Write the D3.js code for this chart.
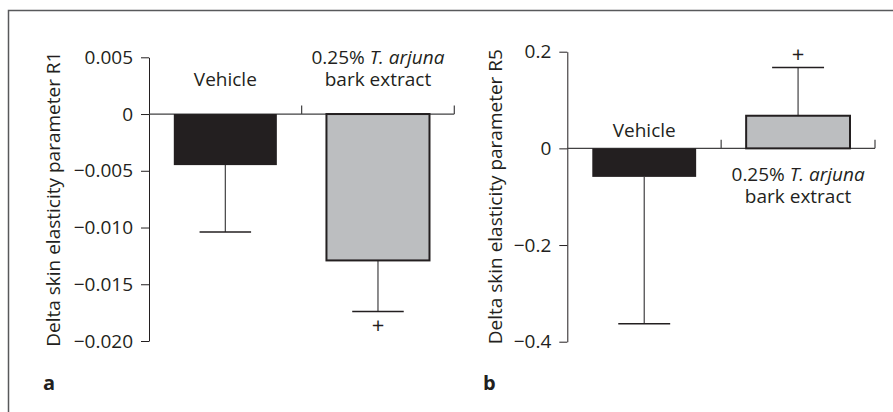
<!DOCTYPE html>
<html>
<head>
<meta charset="utf-8">
<script src="https://cdn.jsdelivr.net/npm/d3@7"></script>
<style>
  body { margin: 0; background: #fff; }
  text { font-family: "Open Sans", sans-serif; fill: #231f20; }
</style>
</head>
<body>
<script>
// groups and values
var groups = ["Vehicle", "0.25% T. arjuna bark extract"];

// panel a, R1: mean change and the end of the error bar
var r1Means = [-0.0045, -0.0129];
var r1ErrorEnds = [-0.0104, -0.0174];
var r1Ticks = [0.005, 0, -0.005, -0.010, -0.015, -0.020];

// panel b, R5
var r5Means = [-0.059, 0.0675];
var r5ErrorEnds = [-0.363, 0.1675];
var r5Ticks = [0.2, 0, -0.2, -0.4];

// "+" marks next to the error bar of the extract group
var plusMarks = [false, true];

var colors = ["#231f20", "#bcbec0"];

var fontSize = "19px";

var svg = d3.select("body")
            .append("svg")
            .attr("width", 893)
            .attr("height", 412);

// frame, only top and left edges are visible
svg.append("path")
   .attr("d", "M8.5,412 V10.5 H893")
   .attr("fill", "none")
   .attr("stroke", "#58595b")
   .attr("stroke-width", 1.5);

function drawPanel(opts) {
  var g = svg.append("g");

  var yScale = d3.scaleLinear()
                 .domain(d3.extent(opts.ticks))
                 .range([opts.bottom, opts.top]);

  var xScale = d3.scaleBand()
                 .domain(groups)
                 .range([opts.left, opts.right]);

  var barW = xScale.bandwidth() * 0.675;
  var y0 = yScale(0);

  // left axis
  var yAxis = d3.axisLeft(yScale)
                .tickValues(opts.ticks)
                .tickSize(8)
                .tickSizeOuter(0)
                .tickPadding(opts.tickPad)
                .tickFormat(function(d) { return d === 0 ? "0" : d3.format(opts.fmt)(d); });

  var axisG = g.append("g")
               .attr("transform", "translate(" + opts.left + ",0)")
               .call(yAxis);
  axisG.attr("font-size", null).attr("font-family", null);
  axisG.select(".domain").attr("stroke", "#231f20");
  axisG.selectAll(".tick line").attr("stroke", "#231f20");
  axisG.selectAll(".tick text")
       .style("font-size", fontSize)
       .attr("fill", "#231f20");

  // axis title
  g.append("text")
   .attr("transform", "rotate(-90)")
   .attr("x", -(opts.top + opts.bottom) / 2)
   .attr("y", opts.titleX)
   .attr("text-anchor", "middle")
   .style("font-size", fontSize)
   .text(opts.title);

  // error bars
  g.selectAll(".err")
   .data(groups)
   .enter()
   .append("line")
   .attr("x1", function(d) { return xScale(d) + xScale.bandwidth() / 2; })
   .attr("x2", function(d) { return xScale(d) + xScale.bandwidth() / 2; })
   .attr("y1", function(d, i) { return yScale(opts.means[i]); })
   .attr("y2", function(d, i) { return yScale(opts.errs[i]); })
   .attr("stroke", "#414042")
   .attr("stroke-width", 1.2);

  g.selectAll(".cap")
   .data(groups)
   .enter()
   .append("line")
   .attr("x1", function(d) { return xScale(d) + xScale.bandwidth() / 2 - barW / 4; })
   .attr("x2", function(d) { return xScale(d) + xScale.bandwidth() / 2 + barW / 4; })
   .attr("y1", function(d, i) { return yScale(opts.errs[i]); })
   .attr("y2", function(d, i) { return yScale(opts.errs[i]); })
   .attr("stroke", "#231f20")
   .attr("stroke-width", 1.5);

  // zero line with category ticks
  g.append("line")
   .attr("x1", opts.left)
   .attr("x2", opts.right)
   .attr("y1", y0)
   .attr("y2", y0)
   .attr("stroke", "#414042")
   .attr("stroke-width", 1.2);

  g.selectAll(".ctick")
   .data(groups)
   .enter()
   .append("line")
   .attr("x1", function(d) { return xScale(d) + xScale.bandwidth(); })
   .attr("x2", function(d) { return xScale(d) + xScale.bandwidth(); })
   .attr("y1", y0)
   .attr("y2", y0 - 8.5)
   .attr("stroke", "#414042")
   .attr("stroke-width", 1.2);

  // bars
  g.selectAll(".bar")
   .data(groups)
   .enter()
   .append("rect")
   .attr("x", function(d) { return xScale(d) + (xScale.bandwidth() - barW) / 2; })
   .attr("width", barW)
   .attr("y", function(d, i) { return Math.min(yScale(opts.means[i]), y0); })
   .attr("height", function(d, i) { return Math.abs(yScale(opts.means[i]) - y0); })
   .attr("fill", function(d, i) { return colors[i]; })
   .attr("stroke", "#231f20")
   .attr("stroke-width", function(d, i) { return i === 0 ? 0 : 2; });

  // "+" marks beyond the error bar
  g.selectAll(".plus")
   .data(groups.filter(function(d, i) { return plusMarks[i]; }))
   .enter()
   .append("text")
   .attr("x", function(d) { return xScale(d) + xScale.bandwidth() / 2; })
   .attr("y", function(d) {
     var i = groups.indexOf(d);
     var e = yScale(opts.errs[i]);
     return opts.errs[i] < 0 ? e + 22 : e - 5;
   })
   .attr("text-anchor", "middle")
   .style("font-size", "22px")
   .text("+");

  // category labels
  groups.forEach(function(d, i) {
    var cx = xScale(d) + xScale.bandwidth() / 2;
    if (i === 0) {
      g.append("text")
       .attr("x", cx)
       .attr("y", opts.labelY[0])
       .attr("text-anchor", "middle")
       .style("font-size", fontSize)
       .text(d);
    } else {
      // first line is two pieces, the species name in italics
      var pre = g.append("text")
                 .attr("y", opts.labelY[1])
                 .style("font-size", fontSize)
                 .style("white-space", "pre")
                 .text("0.25% ");
      var sp = g.append("text")
                .attr("y", opts.labelY[1])
                .attr("font-style", "italic")
                .style("font-size", fontSize)
                .text("T. arjuna");
      var w1 = pre.node().getComputedTextLength();
      var w2 = sp.node().getComputedTextLength();
      var x0 = cx - (w1 + w2) / 2;
      pre.attr("x", x0);
      sp.attr("x", x0 + w1);
      g.append("text")
       .attr("x", cx)
       .attr("y", opts.labelY[2])
       .attr("text-anchor", "middle")
       .style("font-size", fontSize)
       .text("bark extract");
    }
  });

  // panel letter
  g.append("text")
   .attr("x", opts.letterX)
   .attr("y", 390)
   .style("font-size", "20px")
   .attr("font-weight", "bold")
   .text(opts.letter);
}

drawPanel({
  means: r1Means, errs: r1ErrorEnds, ticks: r1Ticks, fmt: ".3f",
  left: 149, right: 454.3, top: 57.3, bottom: 341,
  tickPad: 8,
  title: "Delta skin elasticity parameter R1", titleX: 60,
  labelY: [86, 64, 86],
  letter: "a", letterX: 43
});

drawPanel({
  means: r5Means, errs: r5ErrorEnds, ticks: r5Ticks, fmt: ".1f",
  left: 567.3, right: 875, top: 51.7, bottom: 341.7,
  tickPad: 8,
  title: "Delta skin elasticity parameter R5", titleX: 502,
  labelY: [136.5, 181, 202.5],
  letter: "b", letterX: 483
});
</script>
</body>
</html>
